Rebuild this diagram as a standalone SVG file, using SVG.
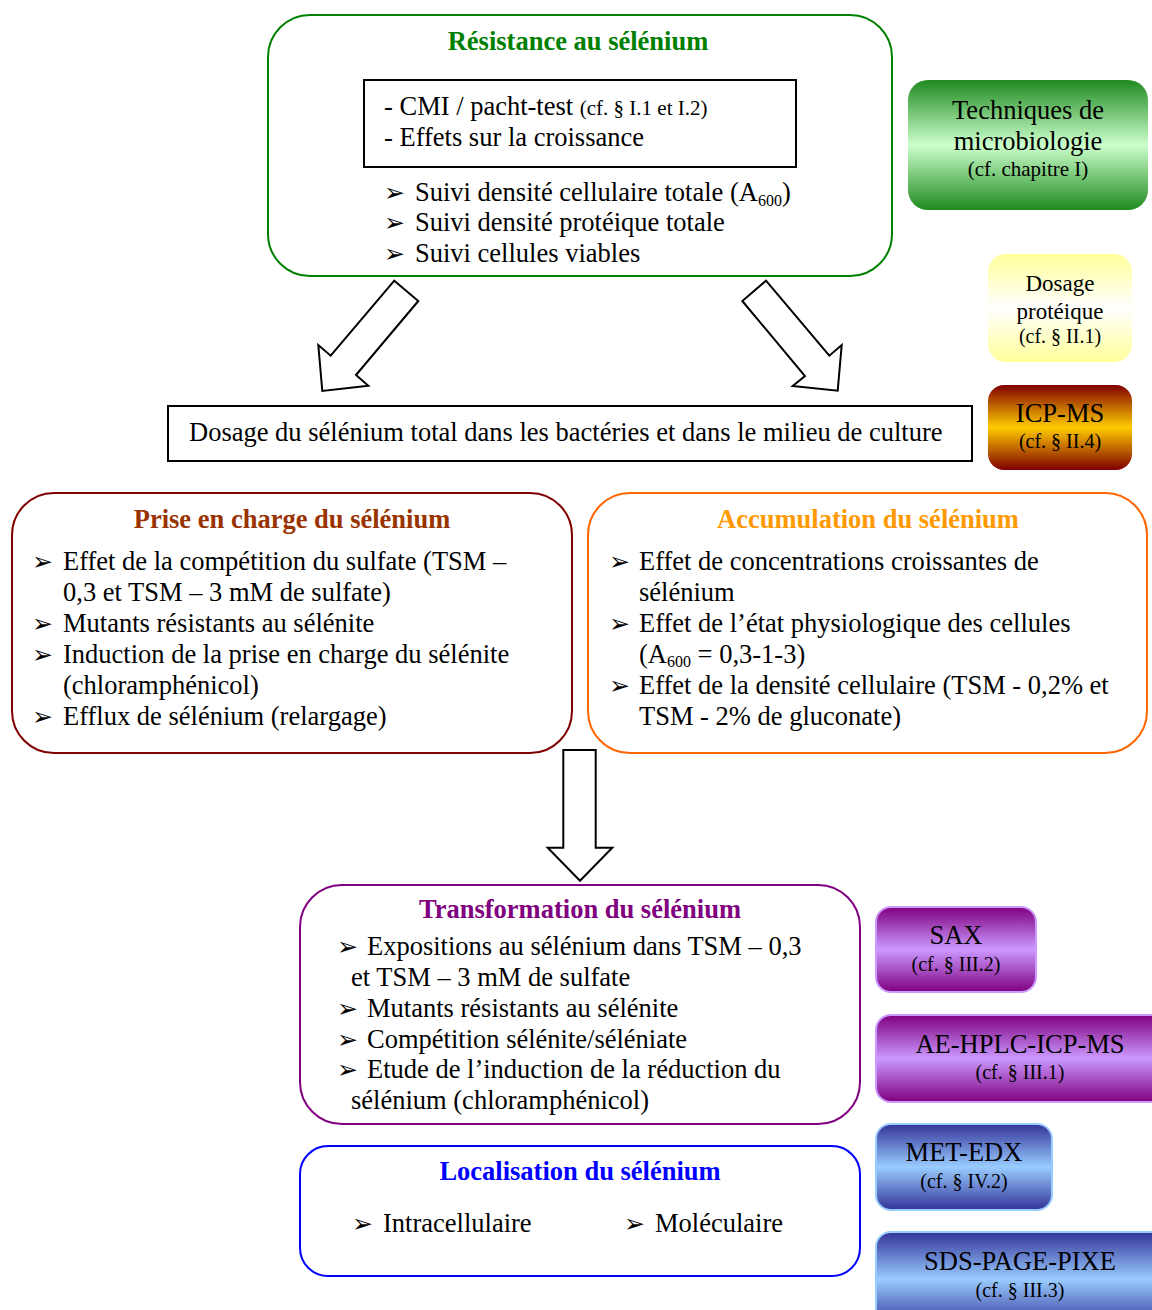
<svg xmlns="http://www.w3.org/2000/svg" width="1152" height="1310" viewBox="0 0 1152 1310">
<style>
text{font-family:"Liberation Serif","Times New Roman",serif;fill:#000;}
.t{font-size:26.5px;}
.s{font-size:21px;}
.sub{font-size:16px;}
.h{font-size:26.5px;font-weight:bold;text-anchor:middle;}
.b{font-family:"DejaVu Sans",sans-serif;font-size:25px;}
.c{text-anchor:middle;}
.box{fill:#fff;stroke-width:2;}
.arrow{fill:#fff;stroke:#000;stroke-width:2;stroke-linejoin:miter;}
</style>
<defs>
<linearGradient id="gGreen" x1="0" y1="0" x2="0" y2="1"><stop offset="0" stop-color="#1f8a1f"/><stop offset="0.5" stop-color="#ccffcc"/><stop offset="1" stop-color="#1f8a1f"/></linearGradient>
<linearGradient id="gYellow" x1="0" y1="0" x2="0" y2="1"><stop offset="0" stop-color="#ffff99"/><stop offset="0.5" stop-color="#ffffff"/><stop offset="1" stop-color="#ffff99"/></linearGradient>
<linearGradient id="gGold" x1="0" y1="0" x2="0" y2="1"><stop offset="0" stop-color="#800000"/><stop offset="0.5" stop-color="#ffcc00"/><stop offset="1" stop-color="#800000"/></linearGradient>
<linearGradient id="gPurple" x1="0" y1="0" x2="0" y2="1"><stop offset="0" stop-color="#800080"/><stop offset="0.5" stop-color="#cc99ff"/><stop offset="1" stop-color="#800080"/></linearGradient>
<linearGradient id="gBlue" x1="0" y1="0" x2="0" y2="1"><stop offset="0" stop-color="#333399"/><stop offset="0.5" stop-color="#99ccff"/><stop offset="1" stop-color="#333399"/></linearGradient>
</defs>

<g id="resistance">
<rect class="box" x="268" y="15" width="624" height="261" rx="42" stroke="#008000"/>
<text class="h" x="578" y="50" style="fill:#008000">Résistance au sélénium</text>
<rect x="364" y="80" width="432" height="87" fill="#fff" stroke="#000" stroke-width="2"/>
<text class="t" x="384" y="115">- CMI / pacht-test <tspan class="s">(cf. § I.1 et I.2)</tspan></text>
<text class="t" x="384" y="146">- Effets sur la croissance</text>
<text class="b" x="384" y="201">➢</text>
<text class="t" x="415" y="201">Suivi densité cellulaire totale (A<tspan class="sub" dy="5">600</tspan><tspan dy="-5">)</tspan></text>
<text class="b" x="384" y="231">➢</text>
<text class="t" x="415" y="231">Suivi densité protéique totale</text>
<text class="b" x="384" y="262">➢</text>
<text class="t" x="415" y="262">Suivi cellules viables</text>
</g>

<g id="tech-micro">
<rect x="908" y="80" width="240" height="130" rx="20" fill="url(#gGreen)"/>
<text class="t c" x="1028" y="119">Techniques de</text>
<text class="t c" x="1028" y="150">microbiologie</text>
<text class="s c" x="1028" y="176">(cf. chapitre I)</text>
</g>

<g id="dosage-proteique">
<rect x="988" y="254" width="144" height="108" rx="18" fill="url(#gYellow)"/>
<text class="c" x="1060" y="291" style="font-size:23px">Dosage</text>
<text class="c" x="1060" y="319" style="font-size:23px">protéique</text>
<text class="c" x="1060" y="343" style="font-size:20px">(cf. § II.1)</text>
</g>

<g id="icp-ms">
<rect x="988" y="385" width="144" height="85" rx="16" fill="url(#gGold)"/>
<text class="t c" x="1060" y="422">ICP-MS</text>
<text class="c" x="1060" y="448" style="font-size:20px">(cf. § II.4)</text>
</g>

<g id="dosage-total">
<rect x="168" y="406" width="804" height="55" fill="#fff" stroke="#000" stroke-width="2"/>
<text class="t" x="189" y="441">Dosage du sélénium total dans les bactéries et dans le milieu de culture</text>
</g>

<g id="prise-en-charge">
<rect class="box" x="12" y="493" width="560" height="260" rx="42" stroke="#800000"/>
<text class="h" x="292" y="528" style="fill:#993300">Prise en charge du sélénium</text>
<text class="b" x="32" y="570">➢</text>
<text class="t" x="63" y="570">Effet de la compétition du sulfate (TSM –</text>
<text class="t" x="63" y="601">0,3 et TSM – 3 mM de sulfate)</text>
<text class="b" x="32" y="632">➢</text>
<text class="t" x="63" y="632">Mutants résistants au sélénite</text>
<text class="b" x="32" y="663">➢</text>
<text class="t" x="63" y="663">Induction de la prise en charge du sélénite</text>
<text class="t" x="63" y="694">(chloramphénicol)</text>
<text class="b" x="32" y="725">➢</text>
<text class="t" x="63" y="725">Efflux de sélénium (relargage)</text>
</g>

<g id="accumulation">
<rect class="box" x="588" y="493" width="559" height="260" rx="42" stroke="#ff6600"/>
<text class="h" x="868" y="528" style="fill:#ff9900">Accumulation du sélénium</text>
<text class="b" x="609" y="570">➢</text>
<text class="t" x="639" y="570">Effet de concentrations croissantes de</text>
<text class="t" x="639" y="601">sélénium</text>
<text class="b" x="609" y="632">➢</text>
<text class="t" x="639" y="632">Effet de l’état physiologique des cellules</text>
<text class="t" x="639" y="663">(A<tspan class="sub" dy="4">600</tspan><tspan dy="-4"> = 0,3-1-3)</tspan></text>
<text class="b" x="609" y="694">➢</text>
<text class="t" x="639" y="694">Effet de la densité cellulaire (TSM - 0,2% et</text>
<text class="t" x="639" y="725">TSM - 2% de gluconate)</text>
</g>

<g id="transformation">
<rect class="box" x="300" y="885" width="560" height="239" rx="42" stroke="#800080"/>
<text class="h" x="580" y="918" style="fill:#800080">Transformation du sélénium</text>
<text class="b" x="337" y="955">➢</text>
<text class="t" x="367" y="955">Expositions au sélénium dans TSM – 0,3</text>
<text class="t" x="351" y="986">et TSM – 3 mM de sulfate</text>
<text class="b" x="337" y="1017">➢</text>
<text class="t" x="367" y="1017">Mutants résistants au sélénite</text>
<text class="b" x="337" y="1048">➢</text>
<text class="t" x="367" y="1048">Compétition sélénite/séléniate</text>
<text class="b" x="337" y="1078">➢</text>
<text class="t" x="367" y="1078">Etude de l’induction de la réduction du</text>
<text class="t" x="351" y="1109">sélénium (chloramphénicol)</text>
</g>

<g id="localisation">
<rect class="box" x="300" y="1146" width="560" height="130" rx="28" stroke="#0000ff"/>
<text class="h" x="580" y="1180" style="fill:#0000ff">Localisation du sélénium</text>
<text class="b" x="352" y="1232">➢</text>
<text class="t" x="383" y="1232">Intracellulaire</text>
<text class="b" x="624" y="1232">➢</text>
<text class="t" x="655" y="1232">Moléculaire</text>
</g>

<g id="sax">
<rect x="876" y="907" width="160" height="85" rx="15" fill="url(#gPurple)" stroke="#cc99ff" stroke-width="2"/>
<text class="t c" x="956" y="944">SAX</text>
<text class="c" x="956" y="971" style="font-size:20px">(cf. § III.2)</text>
</g>

<g id="ae-hplc">
<rect x="876" y="1015" width="290" height="87" rx="15" fill="url(#gPurple)" stroke="#cc99ff" stroke-width="2"/>
<text class="t c" x="1020" y="1053">AE-HPLC-ICP-MS</text>
<text class="c" x="1020" y="1079" style="font-size:20px">(cf. § III.1)</text>
</g>

<g id="met-edx">
<rect x="876" y="1124" width="176" height="86" rx="15" fill="url(#gBlue)" stroke="#99ccff" stroke-width="2"/>
<text class="t c" x="964" y="1161">MET-EDX</text>
<text class="c" x="964" y="1188" style="font-size:20px">(cf. § IV.2)</text>
</g>

<g id="sds-page">
<rect x="876" y="1232" width="290" height="95" rx="15" fill="url(#gBlue)" stroke="#99ccff" stroke-width="2"/>
<text class="t c" x="1020" y="1270">SDS-PAGE-PIXE</text>
<text class="c" x="1020" y="1297" style="font-size:20px">(cf. § III.3)</text>
</g>

<g id="connectors">
<polygon class="arrow" points="394.3,280.7 418.3,301 356,375 368.3,385.7 322.3,391 318.3,345 330.7,355.7"/>
<polygon class="arrow" points="766,280.7 742.3,301 805,376 792.7,386 837.7,390.7 841.7,345 829.3,355.7"/>
<polygon class="arrow" points="563.3,750 595.7,750 595.7,847.7 612.3,847.7 580,880.7 547.7,847.7 563.3,847.7"/>
</g>
</svg>
